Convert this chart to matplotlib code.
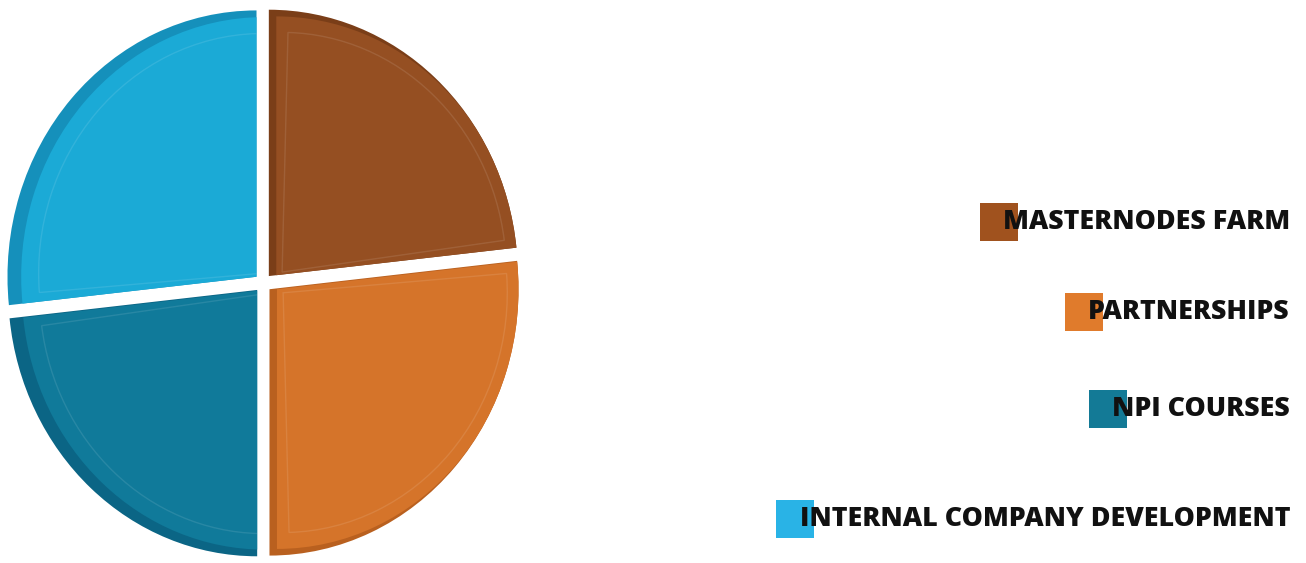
import matplotlib
matplotlib.use("Agg")
import matplotlib.pyplot as plt
from matplotlib.patches import Rectangle, Wedge
import numpy as np

# ---- data ----
categories = ["MASTERNODES FARM", "PARTNERSHIPS", "NPI COURSES", "INTERNAL COMPANY DEVELOPMENT"]
values = [23.3, 26.7, 23.3, 26.7]
colors = ["#954F22", "#D5742A", "#107A9A", "#1BAAD6"]
rim_colors = ["#7A3E18", "#B9601F", "#0B6585", "#1590BB"]
legend_colors = ["#A0521E", "#E07B2C", "#137A96", "#29B3E6"]

W, H = 1306, 563
fig = plt.figure(figsize=(W / 100, H / 100), dpi=100)
fig.patch.set_facecolor("white")

# pie axes (slightly stretched vertically like the reference perspective)
ax = fig.add_axes([4 / W, 3 / H, 518 / W, 554 / H])
explode = [0.035] * len(values)
wedges, _ = ax.pie(values, colors=rim_colors, startangle=90, counterclock=False,
                   explode=explode, radius=1.0,
                   wedgeprops=dict(linewidth=0))
# front face of each slice, shifted right so a 3D rim shows on the left
for w, c in zip(wedges, colors):
    cx, cy = w.center
    face = Wedge((cx + 0.03, cy), 0.975, w.theta1, w.theta2,
                 facecolor=c, edgecolor="none")
    ax.add_patch(face)
    face.set_clip_path(w)
    ang = np.deg2rad((w.theta1 + w.theta2) / 2)
    inner = Wedge((cx + 0.04 + 0.02 * np.cos(ang), cy + 0.02 * np.sin(ang)), 0.90,
                  w.theta1 + 1.5, w.theta2 - 1.5, facecolor="none",
                  edgecolor=(1, 1, 1, 0.10), linewidth=1.0)
    ax.add_patch(inner)
    inner.set_clip_path(w)
ax.set_xlim(-1.04, 1.04)
ax.set_ylim(-1.04, 1.04)
ax.set_aspect("auto")
ax.axis("off")

# ---- legend ----
text_right = 1290 / W
rows_y = [222, 312, 409, 519]
sq = 38
fig.canvas.draw()
renderer = fig.canvas.get_renderer()
for label, col, yp in zip(categories, legend_colors, rows_y):
    yf = 1 - yp / H
    t = fig.text(text_right, yf, label, ha="right", va="center",
                 fontsize=19.3, fontweight="heavy", family="Open Sans",
                 color="#111111", zorder=3)
    bb = t.get_window_extent(renderer=renderer)
    x0 = bb.x0 - 23
    rect = Rectangle((x0 / W, yf - (sq / 2) / H), sq / W, sq / H,
                     transform=fig.transFigure, facecolor=col, edgecolor="none", zorder=2)
    fig.patches.append(rect)

fig.savefig("out.png", dpi=100, facecolor="white")
